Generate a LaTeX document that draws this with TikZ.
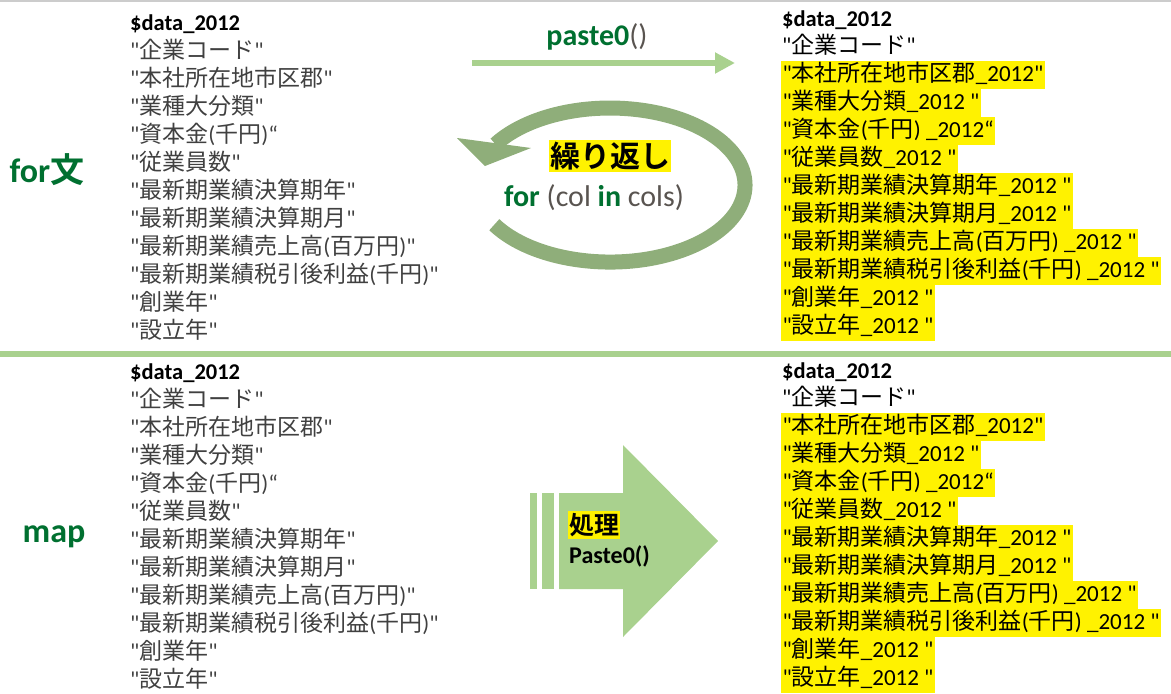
\documentclass[tikz,border=0pt]{standalone}
\usepackage{fontspec}
\setmainfont{Carlito}[Ligatures=TeXOff]
\newfontfamily\jpfont{Noto Sans CJK JP}[BoldFont={Noto Sans CJK JP Bold}]
\newcommand{\jp}[1]{{\jpfont #1}}
\usetikzlibrary{arrows.meta}

\definecolor{lightgreen}{RGB}{169,209,142}
\definecolor{loopgreen}{RGB}{143,174,122}
\definecolor{dkgreen}{RGB}{0,112,48}
\definecolor{txtgray}{RGB}{64,64,64}
\definecolor{parengray}{RGB}{89,84,80}

\newcommand{\oldcols}{{"\jp{企業コード}"}, {"\jp{本社所在地市区郡}"}, {"\jp{業種大分類}"},
  {"\jp{資本金}(\jp{千円})“}, {"\jp{従業員数}"}, {"\jp{最新期業績決算期年}"},
  {"\jp{最新期業績決算期月}"}, {"\jp{最新期業績売上高}(\jp{百万円})"},
  {"\jp{最新期業績税引後利益}(\jp{千円})"}, {"\jp{創業年}"}, {"\jp{設立年}"}}
\newcommand{\newcols}{{"\jp{本社所在地市区郡}\_2012"}, {"\jp{業種大分類}\_2012 "},
  {"\jp{資本金}(\jp{千円}) \_2012“}, {"\jp{従業員数}\_2012 "},
  {"\jp{最新期業績決算期年}\_2012 "}, {"\jp{最新期業績決算期月}\_2012 "},
  {"\jp{最新期業績売上高}(\jp{百万円}) \_2012 "},
  {"\jp{最新期業績税引後利益}(\jp{千円}) \_2012 "},
  {"\jp{創業年}\_2012 "}, {"\jp{設立年}\_2012 "}}

\begin{document}
\begin{tikzpicture}[
  x=1pt, y=-1pt,
  item/.style={anchor=west, inner sep=0pt, text=txtgray, font=\fontsize{23}{28}\selectfont, text height=17pt, text depth=5pt},
  head/.style={item, text=black, font=\bfseries\fontsize{22.5}{28}\selectfont},
  hl/.style={item, text=black, fill=yellow, inner xsep=1.5pt, minimum height=28pt},
  kind/.style={font=\bfseries\fontsize{34}{40}\selectfont, text=dkgreen},
  marker/.style={fill=yellow, inner xsep=1pt, inner ysep=2pt, text=black}
]
\useasboundingbox (0,0) rectangle (1171,694);
\draw[gray!40, line width=1.5pt] (0,0.75) -- (1171,0.75);
\draw[lightgreen, line width=6pt] (0,354) -- (1171,354);

% for
\node[kind] (forlabel) at (47,170) {for\jp{文}};
\node[head] (dtl) at (130,24) {\$data\_2012};
\foreach \c [count=\i] in \oldcols
  \node[item] (lt\i) at (130,{24+28*\i}) {\c};
\node[head] (dtr) at (782,20) {\$data\_2012};
\node[item, text=black] (rt0) at (782,47) {"\jp{企業コード}"};
\foreach \c [count=\i] in \newcols
  \node[hl] (rt\i) at (781,{47+28*\i}) {\c};

\node (paste) at (597,37) {\fontsize{30}{34}\selectfont\textcolor{dkgreen}{\bfseries paste0}\textcolor{parengray}{()}};
\coordinate (pa) at (472,63);
\coordinate (pb) at (735,63);
\draw[lightgreen, line width=6pt, -{Triangle[length=20pt, width=20pt]}] (pa) -- (pb);

\coordinate (loopstart) at (494.3,224.7);
\draw[loopgreen, line width=15pt] (loopstart) arc[start angle=-211, end angle=-508, x radius=135, y radius=77];
\fill[loopgreen] (457,138) -- (485,166) -- (531,148) -- cycle;
\node[marker, font=\jpfont\bfseries\fontsize{30}{34}\selectfont] (repeat) at (610,156) {繰り返し};
\node[text=parengray, font=\fontsize{30}{34}\selectfont] (forcol) at (594,198)
  {\textcolor{dkgreen}{\bfseries for} (col \textcolor{dkgreen}{\bfseries in} cols)};

% map
\node[kind] (maplabel) at (54,537) {map};
\node[head] (dbl) at (130,373) {\$data\_2012};
\foreach \c [count=\i] in \oldcols
  \node[item] (lb\i) at (130,{373+28*\i}) {\c};
\node[head] (dbr) at (782,372) {\$data\_2012};
\node[item, text=black] (rb0) at (782,399) {"\jp{企業コード}"};
\foreach \c [count=\i] in \newcols
  \node[hl] (rb\i) at (781,{399+28*\i}) {\c};

\fill[lightgreen] (530,493) rectangle (537,589);
\fill[lightgreen] (542,493) rectangle (554,589);
\fill[lightgreen] (559,493) -- (623,493) -- (623,445) -- (718,541) -- (623,637) -- (623,589) -- (559,589) -- cycle;
\node[marker, anchor=west, font=\jpfont\bfseries\fontsize{25}{28}\selectfont] (proc) at (568,525) {処理};
\node[anchor=west, inner xsep=1pt, font=\bfseries\fontsize{24}{28}\selectfont] (pastecall) at (568,556) {Paste0()};
\end{tikzpicture}
\end{document}
